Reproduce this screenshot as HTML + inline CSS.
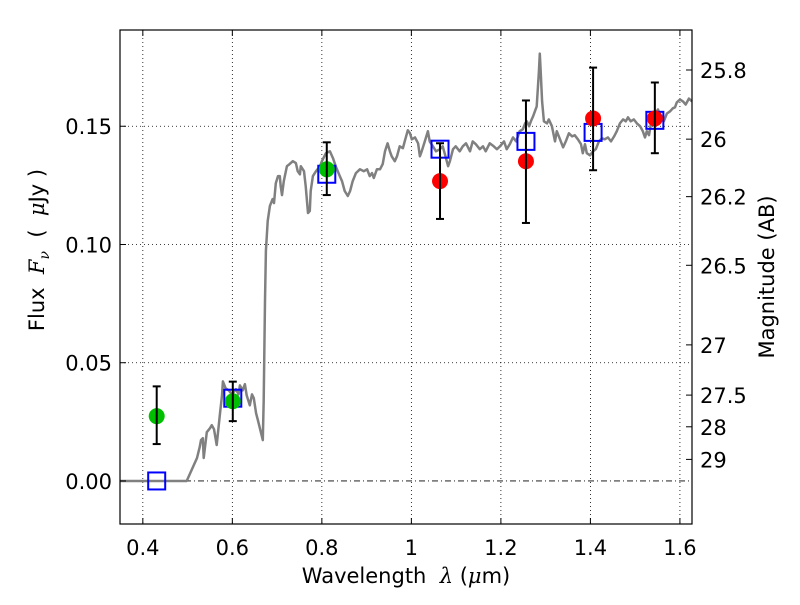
<!DOCTYPE html>
<html><head><meta charset="utf-8"><style>
html,body{margin:0;padding:0;background:#fff;}
svg text{font-family:"DejaVu Sans","Liberation Sans",sans-serif;white-space:pre;}
</style></head><body>
<svg id="chart" width="800" height="600" xmlns="http://www.w3.org/2000/svg">
<rect width="800" height="600" fill="#fff"/>
<g id="grid"></g><g id="model"></g><g id="marks"></g><g id="axes"></g>
</svg>
<script>
const modelWave=[0.349,0.498,0.521,0.527,0.530,0.534,0.536,0.543,0.550,0.554,0.559,0.565,0.572,0.577,0.579,0.585,0.592,0.599,0.608,0.614,0.617,0.623,0.628,0.632,0.639,0.644,0.648,0.653,0.657,0.668,0.670,0.673,0.675,0.679,0.684,0.690,0.693,0.697,0.702,0.706,0.708,0.711,0.715,0.722,0.728,0.735,0.742,0.746,0.751,0.753,0.760,0.764,0.769,0.773,0.775,0.780,0.787,0.796,0.800,0.809,0.818,0.825,0.831,0.840,0.845,0.851,0.858,0.863,0.869,0.876,0.885,0.894,0.901,0.907,0.912,0.916,0.923,0.930,0.936,0.941,0.947,0.952,0.956,0.963,0.968,0.974,0.981,0.985,0.992,0.997,1.001,1.008,1.015,1.019,1.023,1.030,1.037,1.041,1.048,1.055,1.064,1.070,1.075,1.082,1.086,1.093,1.099,1.108,1.115,1.122,1.131,1.137,1.144,1.153,1.160,1.166,1.175,1.184,1.191,1.198,1.207,1.213,1.220,1.227,1.234,1.238,1.242,1.249,1.254,1.258,1.263,1.267,1.272,1.276,1.280,1.285,1.287,1.289,1.292,1.296,1.303,1.307,1.314,1.321,1.325,1.332,1.339,1.345,1.352,1.359,1.365,1.372,1.379,1.383,1.388,1.392,1.399,1.406,1.412,1.419,1.426,1.432,1.439,1.446,1.453,1.459,1.466,1.473,1.479,1.484,1.490,1.497,1.504,1.511,1.517,1.522,1.526,1.531,1.537,1.544,1.551,1.557,1.564,1.571,1.578,1.584,1.589,1.593,1.600,1.607,1.613,1.620,1.627];
const modelFlux=[0,0,0.0097,0.0143,0.0173,0.0181,0.0097,0.0206,0.0223,0.0236,0.0219,0.0152,0.0278,0.0362,0.0421,0.0392,0.0383,0.0366,0.0388,0.0366,0.0404,0.0383,0.0409,0.0362,0.0320,0.0366,0.0350,0.0286,0.0257,0.0173,0.0341,0.0762,0.0973,0.1099,0.1163,0.1192,0.1175,0.1259,0.1289,0.1289,0.1247,0.1209,0.1268,0.1331,0.1340,0.1352,0.1344,0.1310,0.1297,0.1331,0.1310,0.1247,0.1133,0.1142,0.1226,0.1289,0.1310,0.1331,0.1352,0.1386,0.1394,0.1365,0.1331,0.1289,0.1268,0.1226,0.1205,0.1226,0.1268,0.1302,0.1318,0.1310,0.1318,0.1289,0.1302,0.1281,0.1318,0.1318,0.1340,0.1394,0.1428,0.1394,0.1373,0.1352,0.1373,0.1415,0.1407,0.1436,0.1483,0.1470,0.1445,0.1453,0.1428,0.1373,0.1394,0.1436,0.1479,0.1436,0.1415,0.1394,0.1403,0.1415,0.1382,0.1331,0.1352,0.1403,0.1415,0.1394,0.1415,0.1428,0.1394,0.1436,0.1424,0.1403,0.1415,0.1394,0.1428,0.1415,0.1403,0.1415,0.1436,0.1403,0.1424,0.1453,0.1436,0.1457,0.1479,0.1487,0.1512,0.1521,0.1500,0.1521,0.1542,0.1563,0.1584,0.1731,0.1807,0.1731,0.1605,0.1521,0.1512,0.1529,0.1500,0.1436,0.1479,0.1445,0.1411,0.1436,0.1470,0.1457,0.1462,0.1445,0.1424,0.1386,0.1424,0.1386,0.1377,0.1394,0.1403,0.1436,0.1449,0.1445,0.1453,0.1436,0.1457,0.1479,0.1512,0.1529,0.1521,0.1538,0.1521,0.1529,0.1512,0.1500,0.1479,0.1453,0.1479,0.1462,0.1529,0.1554,0.1571,0.1538,0.1521,0.1554,0.1563,0.1576,0.1580,0.1601,0.1613,0.1605,0.1592,0.1617,0.1605];
const greenWave=[0.431,0.601,0.811];
const greenFlux=[0.0274,0.0337,0.1318];
const greenHi=[0.040,0.042,0.1432];
const greenLo=[0.0156,0.0253,0.1209];
const redWave=[1.064,1.256,1.406,1.544];
const redFlux=[0.1268,0.1352,0.1533,0.1533];
const redHi=[0.1428,0.1609,0.1748,0.1685];
const redLo=[0.1108,0.1091,0.1314,0.1386];
const bandWave=[0.431,0.601,0.811,1.064,1.256,1.406,1.544];
const bandFlux=[0,0.035,0.1297,0.1403,0.1436,0.1474,0.1525];
const xTicks=[0.4,0.6,0.8,1.0,1.2,1.4,1.6];
const xTickLabels=["0.4","0.6","0.8","1","1.2","1.4","1.6"];
const yTicks=[0,0.05,0.10,0.15];
const yTickLabels=["0.00","0.05","0.10","0.15"];
const magTicks=[25.8,26,26.2,26.5,27,27.5,28,29];
const magTickLabels=["25.8","26","26.2","26.5","27","27.5","28","29"];

const L=120,R=692,T=30,B=524;
const X0=0.349,X1=1.627,Y0=-0.0182,Y1=0.1907;
const sx=v=>L+(v-X0)/(X1-X0)*(R-L);
const sy=v=>B-(v-Y0)/(Y1-Y0)*(B-T);
const NS="http://www.w3.org/2000/svg";
function mk(tag,attrs,parent){const e=document.createElementNS(NS,tag);for(const k in attrs)e.setAttribute(k,attrs[k]);parent.appendChild(e);return e;}
const grid=document.getElementById('grid'),model=document.getElementById('model'),marks=document.getElementById('marks'),axes=document.getElementById('axes');
const FS=21;
xTicks.forEach((v,i)=>{
 const g=mk('line',{x1:sx(v),x2:sx(v),y1:T,y2:B,stroke:'#000','stroke-width':0.8,'stroke-dasharray':'1,3'},grid);
 
 
 mk('line',{x1:sx(v),x2:sx(v),y1:B,y2:B-6,stroke:'#000'},axes);
 mk('line',{x1:sx(v),x2:sx(v),y1:T,y2:T+6,stroke:'#000'},axes);
 const t=mk('text',{x:sx(v),y:B+31,'font-size':FS,'text-anchor':'middle'},axes);
 t.textContent=xTickLabels[i];
 
 
});
yTicks.forEach((v,i)=>{
 const g=mk('line',{x1:L,x2:R,y1:sy(v),y2:sy(v),stroke:'#000','stroke-width':0.8,'stroke-dasharray':v===0?'6,3,1,3':'1,3'},grid);
 
 
 mk('line',{x1:L,x2:L+6,y1:sy(v),y2:sy(v),stroke:'#000'},axes);
 const t=mk('text',{x:L-8,y:sy(v)+8,'font-size':FS,'text-anchor':'end'},axes);
 t.textContent=yTickLabels[i];
 
 
});
magTicks.forEach((m,i)=>{
 const f=Math.pow(10,(23.9-m)/2.5);const y=sy(f);
 mk('line',{x1:R,x2:R-6,y1:y,y2:y,stroke:'#000'},axes);
 const t=mk('text',{x:R+8,y:y+8,'font-size':FS},axes);
 t.textContent=magTickLabels[i];
 
 
});

const pts=modelWave.map((w,i)=>sx(w).toFixed(1)+','+sy(modelFlux[i]).toFixed(1)).join(' ');
const pl=mk('polyline',{points:pts,fill:'none',stroke:'#808080','stroke-width':2.5,'stroke-linejoin':'round'},model);



function errbar(w,lo,hi){
 const x=sx(w);
 const g=mk('g',{stroke:'#000','stroke-width':2},marks);
 
 
 mk('line',{x1:x,x2:x,y1:sy(hi),y2:sy(lo)},g);
 mk('line',{x1:x-4,x2:x+4,y1:sy(hi),y2:sy(hi)},g);
 mk('line',{x1:x-4,x2:x+4,y1:sy(lo),y2:sy(lo)},g);
}
bandWave.forEach((w,i)=>{
 const r=mk('rect',{x:sx(w)-8.5,y:sy(bandFlux[i])-8.5,width:17,height:17,fill:'none',stroke:'#0000ff','stroke-width':2},marks);
 
 
});
greenWave.forEach((w,i)=>{
 const c=mk('circle',{cx:sx(w),cy:sy(greenFlux[i]),r:8,fill:'#00bf00'},marks);
 
 
 errbar(w,greenLo[i],greenHi[i]);
});
redWave.forEach((w,i)=>{
 const c=mk('circle',{cx:sx(w),cy:sy(redFlux[i]),r:8,fill:'#ff0000'},marks);
 
 
 errbar(w,redLo[i],redHi[i]);
});

const fr=mk('rect',{x:L,y:T,width:R-L,height:B-T,fill:'none',stroke:'#000','stroke-width':1.2},axes);


const xl=mk('text',{x:(L+R)/2,y:583,'font-size':FS,'text-anchor':'middle'},axes);
xl.innerHTML='Wavelength  <tspan font-style="italic" font-family="DejaVu Serif">λ</tspan> (<tspan font-style="italic" font-family="DejaVu Serif">μ</tspan>m)';


const yl=mk('text',{x:0,y:0,'font-size':FS,'text-anchor':'middle',transform:'translate(44,250) rotate(-90)'},axes);
yl.innerHTML='Flux  <tspan font-style="italic" font-family="DejaVu Serif">F</tspan><tspan font-style="italic" font-family="DejaVu Serif" font-size="14" dy="5">ν</tspan><tspan dy="-5">  (  </tspan><tspan font-style="italic" font-family="DejaVu Serif">μ</tspan>Jy )';


const ml=mk('text',{x:0,y:0,'font-size':FS,'text-anchor':'middle',transform:'translate(774,277) rotate(-90)'},axes);
ml.textContent='Magnitude (AB)';


</script>
</body></html>
